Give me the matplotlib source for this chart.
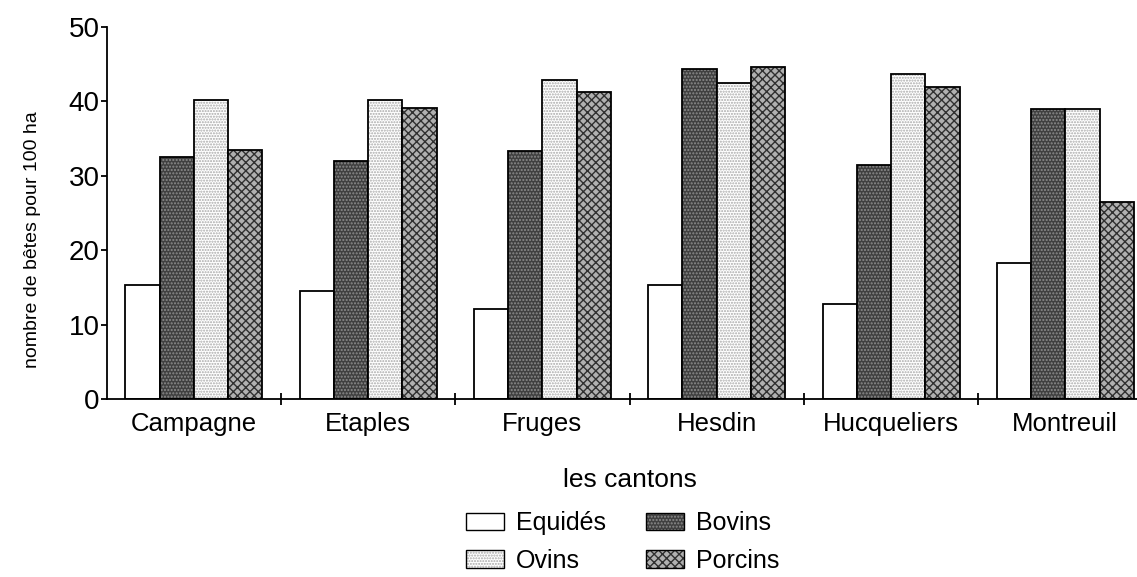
import matplotlib
matplotlib.use("Agg")
import matplotlib.pyplot as plt
from matplotlib.patches import Patch
import numpy as np

cantons = ["Campagne", "Etaples", "Fruges", "Hesdin", "Hucqueliers", "Montreuil"]
equides = [15.3, 14.5, 12.1, 15.3, 12.8, 18.3]
bovins = [32.5, 32.0, 33.3, 44.3, 31.4, 38.9]
ovins = [40.2, 40.2, 42.9, 42.4, 43.7, 38.9]
porcins = [33.5, 39.1, 41.3, 44.6, 41.9, 26.5]

series = [("Equidés", equides), ("Bovins", bovins), ("Ovins", ovins), ("Porcins", porcins)]
# (face, hatch, hatch colour) for each series
styles = [("white", None, "white"),
          ("#404040", ".....", "#8c8c8c"),
          ("white", "......", "#a8a8a8"),
          ("#b0b0b0", "xxxx", "#303030")]

plt.rcParams["font.family"] = ["Liberation Sans", "DejaVu Sans"]
plt.rcParams["hatch.linewidth"] = 1.0

fig = plt.figure(figsize=(11.37, 5.77), dpi=100)
ax = fig.add_axes([0.0938, 0.308, 0.9198, 0.6456])

x = np.arange(len(cantons))
w = 0.1965
handles = []
for k, ((name, vals), (fc, hatch, hc)) in enumerate(zip(series, styles)):
    pos = x + (k - 1.5) * w
    ax.bar(pos, vals, w, color=fc, hatch=hatch, edgecolor=hc, linewidth=0)
    ax.bar(pos, vals, w, fill=False, edgecolor="black", linewidth=1.3)
    handles.append((Patch(facecolor=fc, hatch=hatch, edgecolor=hc, linewidth=0),
                    Patch(fill=False, edgecolor="black", linewidth=1.0)))

ax.set_xlim(-0.5, len(cantons) - 0.5)
ax.set_ylim(0, 50)
ax.set_yticks([0, 10, 20, 30, 40, 50])
ax.set_xticks(x)
ax.set_xticklabels(cantons, fontsize=18.5)
ax.set_xticks(x[:-1] + 0.5, minor=True)
ax.tick_params(axis="x", which="major", length=0, pad=9)
ax.tick_params(axis="x", which="minor", direction="inout", length=8, width=1.3)
ax.tick_params(axis="y", direction="out", length=4, width=1.3, pad=1, labelsize=20)
for s in ["top", "right"]:
    ax.spines[s].set_visible(False)
for s in ["left", "bottom"]:
    ax.spines[s].set_linewidth(1.3)

ax.set_xlabel("les cantons", fontsize=19, labelpad=23)
fig.text(33 / 1137, 1 - 240 / 577, "nombre de bêtes pour 100 ha", rotation=90,
         ha="center", va="center", fontsize=14)

order = [0, 2, 1, 3]
ax.legend([handles[i] for i in order], [series[i][0] for i in order],
          ncol=2, frameon=False, fontsize=18, loc="upper left",
          bbox_to_anchor=(466 / 1137, 1 - 511 / 577), bbox_transform=fig.transFigure,
          borderpad=0, borderaxespad=0, handlelength=1.5, handleheight=0.7,
          handletextpad=0.5, columnspacing=1.6, labelspacing=0.55)

fig.savefig("out.png", dpi=100)
